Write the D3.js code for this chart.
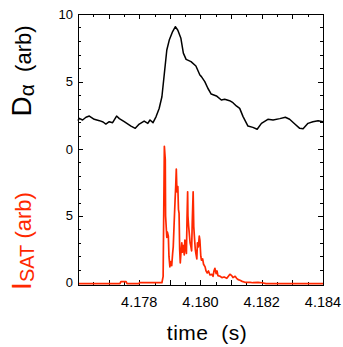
<!DOCTYPE html>
<html>
<head>
<meta charset="utf-8">
<script src="https://cdnjs.cloudflare.com/ajax/libs/d3/7.8.5/d3.min.js"></script>
<style>
  body { margin: 0; background: #fff; }
  text { font-family: "Liberation Sans", Arial, sans-serif; }
</style>
</head>
<body>
<div id="chart"></div>
<script>
// D-alpha trace (top panel)
var daTime = [4.17600, 4.17604, 4.17615, 4.17626, 4.17637, 4.17653, 4.17670, 4.17682, 4.17691, 4.17702,
  4.17713, 4.17726, 4.17735, 4.17751, 4.17773, 4.17787, 4.17800, 4.17816, 4.17828, 4.17835,
  4.17845, 4.17855, 4.17865, 4.17874, 4.17882, 4.17890, 4.17898, 4.17909, 4.17918, 4.17926,
  4.17936, 4.17944, 4.17953, 4.17969, 4.17985, 4.17998, 4.18003, 4.18014, 4.18024, 4.18035,
  4.18052, 4.18068, 4.18079, 4.18095, 4.18106, 4.18117, 4.18128, 4.18139, 4.18155, 4.18171,
  4.18185, 4.18199, 4.18220, 4.18237, 4.18259, 4.18277, 4.18291, 4.18308, 4.18324, 4.18335,
  4.18351, 4.18367, 4.18384, 4.18400];
var daValue = [2.1, 2.27, 2.15, 2.35, 2.44, 2.2, 2.1, 2.0, 1.85, 2.02,
  1.95, 2.44, 2.25, 2.02, 1.7, 1.53, 1.85, 2.07, 1.9, 2.15,
  1.95, 2.4, 3.0, 3.87, 5.6, 7.33, 8.07, 8.7, 9.06, 8.8,
  8.2, 7.1, 6.64, 6.47, 6.15, 5.48, 5.36, 4.99, 4.5, 4.07,
  3.93, 3.63, 3.68, 3.58, 3.43, 3.19, 3.01, 2.4, 1.7, 1.6,
  1.46, 1.9, 2.2, 2.15, 2.25, 2.35, 2.2, 1.85, 1.53, 1.5,
  1.9, 2.02, 2.1, 2.02];

// ion saturation current trace (bottom panel)
var isTime = [4.17600, 4.17737, 4.17740, 4.17757, 4.17760, 4.17799, 4.17801, 4.17874, 4.17878, 4.17882,
  4.17885, 4.17886, 4.17890, 4.17892, 4.17895, 4.17897, 4.17900, 4.17903, 4.17906, 4.17909,
  4.17911, 4.17914, 4.17917, 4.17919, 4.17921, 4.17923, 4.17926, 4.17928, 4.17930, 4.17932,
  4.17934, 4.17936, 4.17939, 4.17941, 4.17944, 4.17947, 4.17949, 4.17952, 4.17954, 4.17956,
  4.17958, 4.17959, 4.17961, 4.17963, 4.17966, 4.17968, 4.17971, 4.17973, 4.17976, 4.17978,
  4.17980, 4.17983, 4.17985, 4.17988, 4.17990, 4.17993, 4.17996, 4.17998, 4.18001, 4.18003,
  4.18007, 4.18010, 4.18015, 4.18018, 4.18022, 4.18026, 4.18031, 4.18037, 4.18041, 4.18044,
  4.18047, 4.18051, 4.18054, 4.18057, 4.18064, 4.18070, 4.18077, 4.18086, 4.18091, 4.18096,
  4.18102, 4.18106, 4.18113, 4.18118, 4.18123, 4.18129, 4.18136, 4.18145, 4.18162, 4.18171,
  4.18188, 4.18201, 4.18214, 4.18400];
var isValue = [-0.05, -0.05, 0.1, 0.1, -0.05, -0.05, 0.02, 0.02, 0.5, 10.2,
  9.2, 5.0, 3.4, 3.8, 3.5, 2.0, 1.2, 1.6, 1.3, 2.2,
  2.7, 4.5, 6.2, 7.2, 8.5, 6.8, 7.2, 5.5, 5.2, 2.5,
  1.5, 2.2, 3.0, 2.3, 2.8, 2.1, 3.2, 2.6, 2.2, 4.8,
  6.8, 5.0, 4.3, 3.8, 3.0, 2.8, 2.4, 4.5, 6.8, 4.2,
  3.5, 2.5, 2.2, 1.8, 3.0, 2.7, 3.5, 3.2, 2.0, 1.7,
  1.8, 1.4, 1.2, 0.9, 0.75, 0.9, 0.6, 0.65, 0.5, 0.9,
  1.1, 0.7, 0.9, 0.55, 0.5, 0.4, 0.45, 0.35, 0.5, 0.65,
  0.55, 0.4, 0.5, 0.35, 0.25, 0.2, 0.12, 0.05, 0.05, 0.02,
  0.05, 0.02, -0.05, -0.05];

var xLabelTicks = [4.178, 4.180, 4.182, 4.184];
var yLabelTicks = [0, 5, 10];

var width = 343, height = 347;
var plotLeft = 78, plotRight = 323, plotTop = 14, plotMid = 149, plotBottom = 285;

var svg = d3.select("#chart").append("svg")
  .attr("width", width)
  .attr("height", height);

var x = d3.scaleLinear().domain([4.176, 4.184]).range([plotLeft, plotRight]);
var yTop = d3.scaleLinear().domain([0, 10]).range([plotMid, plotTop]);
var yBot = d3.scaleLinear().domain([-0.15, 10]).range([plotBottom, plotMid]);

// minor ticks, all inward
var xMinor = d3.range(0, 17).map(function(i) { return 4.176 + i * 0.0005; });
var yMinor = d3.range(0, 11);

var ticks = svg.append("g").attr("stroke", "#000").attr("stroke-width", 1);
xMinor.forEach(function(t, i) {
  var len = (i % 2 == 0) ? 5 : 3;
  var px = Math.round(x(t)) + 0.5;
  ticks.append("line").attr("x1", px).attr("x2", px).attr("y1", plotBottom).attr("y2", plotBottom - len);
  ticks.append("line").attr("x1", px).attr("x2", px).attr("y1", plotTop).attr("y2", plotTop + len);
});
[yTop, yBot].forEach(function(sc) {
  yMinor.forEach(function(v) {
    var len = (v % 5 == 0) ? 5 : 3;
    var py = Math.round(sc(v)) + 0.5;
    ticks.append("line").attr("x1", plotLeft).attr("x2", plotLeft + len).attr("y1", py).attr("y2", py);
    ticks.append("line").attr("x1", plotRight).attr("x2", plotRight - len).attr("y1", py).attr("y2", py);
  });
});

// traces
var line = function(sc) {
  return d3.line()
    .x(function(d) { return x(d[0]); })
    .y(function(d) { return sc(d[1]); });
};

svg.append("path")
  .datum(daTime.map(function(t, i) { return [t, daValue[i]]; }))
  .attr("fill", "none")
  .attr("stroke", "#000")
  .attr("stroke-width", 1.5)
  .attr("stroke-linejoin", "round")
  .attr("d", line(yTop));

svg.append("path")
  .datum(isTime.map(function(t, i) { return [t, isValue[i]]; }))
  .attr("fill", "none")
  .attr("stroke", "#ff2800")
  .attr("stroke-width", 1.7)
  .attr("stroke-linejoin", "round")
  .attr("d", line(yBot));

// frame
svg.append("rect")
  .attr("x", plotLeft + 0.5).attr("y", plotTop + 0.5)
  .attr("width", plotRight - plotLeft).attr("height", plotBottom - plotTop)
  .attr("fill", "none").attr("stroke", "#000").attr("stroke-width", 1);

// tick labels
svg.append("g").selectAll("text")
  .data(xLabelTicks).enter().append("text")
  .attr("x", function(d) { return x(d); })
  .attr("y", 307)
  .attr("text-anchor", "middle")
  .style("font-size", "14.5px")
  .text(function(d) { return d3.format(".3f")(d); });

svg.append("g").selectAll("text")
  .data(yLabelTicks).enter().append("text")
  .attr("x", 73)
  .attr("y", function(d) { return yTop(d) + 4.5; })
  .attr("text-anchor", "end")
  .style("font-size", "13px")
  .text(function(d) { return d; });

svg.append("g").selectAll("text")
  .data([0, 5]).enter().append("text")
  .attr("x", 73)
  .attr("y", function(d) { return yBot(d) + 4.5; })
  .attr("text-anchor", "end")
  .style("font-size", "13px")
  .text(function(d) { return d; });

// axis titles
svg.append("text")
  .attr("x", 207).attr("y", 340)
  .attr("text-anchor", "middle")
  .style("font-size", "21px")
  .style("letter-spacing", "0.5px")
  .attr("xml:space", "preserve")
  .text("time  (s)");

var da = svg.append("text")
  .attr("transform", "translate(31,71) rotate(-90)")
  .attr("text-anchor", "middle")
  .attr("xml:space", "preserve")
  .attr("fill", "#000");
da.append("tspan").style("font-size", "28px").text("D");
da.append("tspan").style("font-size", "21px").attr("dy", 3).text("\u03b1");
da.append("tspan").style("font-size", "22px").attr("dy", -3).text("  (arb)");

var is = svg.append("text")
  .attr("transform", "translate(31,241) rotate(-90)")
  .attr("text-anchor", "middle")
  .attr("xml:space", "preserve")
  .attr("fill", "#ff2800");
is.append("tspan").style("font-size", "28px").text("I");
is.append("tspan").style("font-size", "20px").attr("dy", 3).text("SAT");
is.append("tspan").style("font-size", "22px").attr("dy", -3).text(" (arb)");
</script>
</body>
</html>
